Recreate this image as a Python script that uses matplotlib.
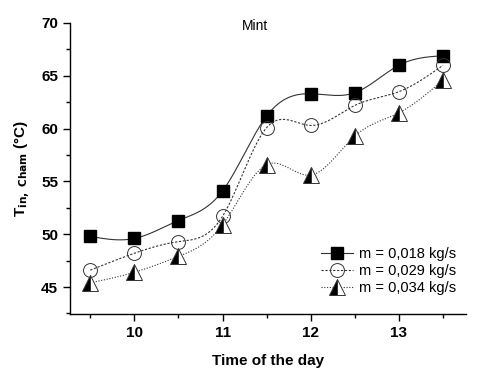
import numpy as np
import matplotlib
matplotlib.use("Agg")
import matplotlib.pyplot as plt
from matplotlib.ticker import MultipleLocator

plt.rcParams['font.family'] = ['Liberation Sans', 'DejaVu Sans']

hours = [9.5, 10, 10.5, 11, 11.5, 12, 12.5, 13, 13.5]
m018 = [49.8, 49.6, 51.3, 54.1, 61.2, 63.3, 63.4, 66.0, 66.9]
m029 = [46.6, 48.2, 49.3, 51.7, 60.1, 60.3, 62.2, 63.5, 66.0]
m034 = [45.4, 46.4, 47.9, 50.9, 56.6, 55.6, 59.3, 61.5, 64.6]
labels = ["m = 0,018 kg/s", "m = 0,029 kg/s", "m = 0,034 kg/s"]


def spline(x, y, n=300):
    x = np.asarray(x, float); y = np.asarray(y, float)
    k = len(x); h = np.diff(x)
    A = np.zeros((k, k)); b = np.zeros(k)
    A[0, 0] = A[-1, -1] = 1
    for i in range(1, k - 1):
        A[i, i - 1] = h[i - 1]; A[i, i] = 2 * (h[i - 1] + h[i]); A[i, i + 1] = h[i]
        b[i] = 3 * ((y[i + 1] - y[i]) / h[i] - (y[i] - y[i - 1]) / h[i - 1])
    c = np.linalg.solve(A, b)
    xs = np.linspace(x[0], x[-1], n)
    idx = np.clip(np.searchsorted(x, xs) - 1, 0, k - 2)
    bb = (y[1:] - y[:-1]) / h - h * (2 * c[:-1] + c[1:]) / 3
    d = (c[1:] - c[:-1]) / (3 * h)
    t = xs - x[idx]
    ys = y[idx] + bb[idx] * t + c[idx] * t ** 2 + d[idx] * t ** 3
    return xs, ys


fig = plt.figure(figsize=(4.8, 3.71), dpi=100)
ax = fig.add_axes([70 / 480, 1 - 314 / 371, (466 - 70) / 480, (314 - 23) / 371])

styles = [
    dict(ls='-', marker='s', mfc='black', mec='black', ms=9),
    dict(ls=(0, (2, 1.5)), marker='o', mfc='none', mec='#333333', ms=10, mew=0.7),
    dict(ls=(0, (1, 1.5)), marker='^', mfc='black', mec='#333333', ms=11, mew=0.7,
         fillstyle='left', markerfacecoloralt='white'),
]
for ys, st, lab in zip([m018, m029, m034], styles, labels):
    sx, sy = spline(hours, ys)
    ax.plot(sx, sy, color='#333333', lw=0.8, ls=st['ls'])
    mk = {k: v for k, v in st.items() if k != 'ls'}
    ax.plot(hours, ys, ls='none', **mk)
    ax.plot([], [], color='#333333', lw=0.8, ls=st['ls'], label=lab, **mk)

ax.set_xlim(9.27, 13.76)
ax.set_ylim(42.45, 70)
ax.xaxis.set_major_locator(MultipleLocator(1))
ax.xaxis.set_minor_locator(MultipleLocator(0.5))
ax.yaxis.set_major_locator(MultipleLocator(5))
ax.yaxis.set_minor_locator(MultipleLocator(2.5))
for s in ['top', 'right']:
    ax.spines[s].set_visible(False)
for s in ['left', 'bottom']:
    ax.spines[s].set_linewidth(1.0)
ax.tick_params(which='major', direction='out', length=5, width=1, labelsize=11)
ax.tick_params(which='minor', direction='out', length=3, width=1)
for t in ax.get_xticklabels() + ax.get_yticklabels():
    t.set_fontweight('bold')

ax.set_xlabel('Time of the day', fontsize=11, fontweight='bold', labelpad=10)
ax.set_ylabel(r'T$_{\mathbf{in,\ Cham}}$ (°C)', fontsize=11, fontweight='bold', labelpad=6)
fig.text(255 / 480, 1 - 26 / 371, 'Mint', ha='center', va='center', fontsize=10)

ax.legend(loc='center right', bbox_to_anchor=(462 / 480, 1 - 271 / 371),
          bbox_transform=fig.transFigure, frameon=False, fontsize=10.5,
          handlelength=2.2, handletextpad=0.4, labelspacing=0.2, borderaxespad=0)

fig.savefig('out.png', dpi=100)
